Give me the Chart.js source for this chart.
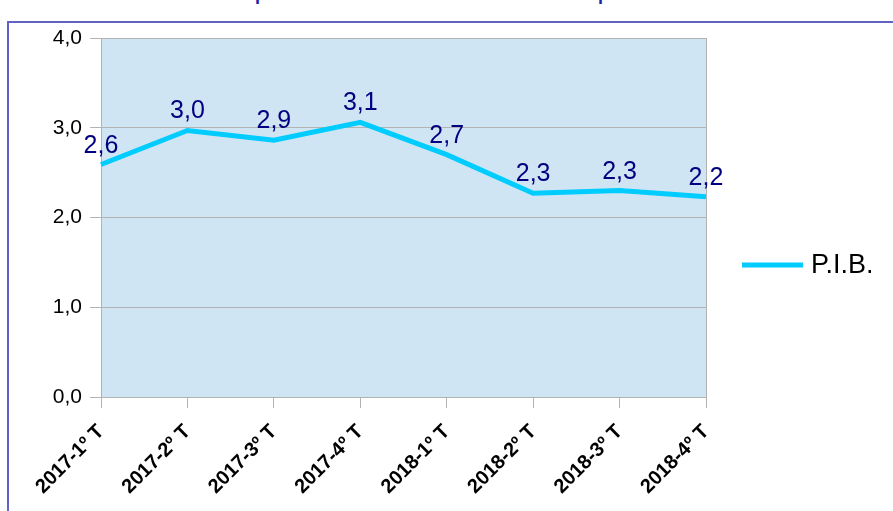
<!DOCTYPE html>
<html>
<head>
<meta charset="utf-8">
<script src="https://cdn.jsdelivr.net/npm/chart.js@4.4.1/dist/chart.umd.min.js"></script>
<style>
  html, body { margin:0; padding:0; background:#ffffff; overflow:hidden; }
  body { width:893px; height:511px; position:relative; }
  #title {
    position:absolute; left:0; width:934px; top:-16px;
    text-align:center; white-space:nowrap;
    font:bold 18px "Liberation Sans", Arial, sans-serif; color:#1f1fa8;
  }
  #frame {
    position:absolute; left:7px; top:21px; width:1000px; height:600px;
    border:2px solid #6262c6; box-sizing:border-box;
  }
  #wrap { position:absolute; left:0; top:0; width:893px; height:511px; }
</style>
</head>
<body>
<div id="title">Comparación de la tasa de variación del PIB por trimestres</div>
<div id="frame"></div>
<div id="wrap"><canvas id="pibChart"></canvas></div>
<script>
/* =========================
DATA
========================= */

const categories = [
  "2017-1º T","2017-2º T","2017-3º T","2017-4º T",
  "2018-1º T","2018-2º T","2018-3º T","2018-4º T"
];

const seriesName = "P.I.B.";

const pibValues = [2.59, 2.97, 2.86, 3.06, 2.70, 2.27, 2.30, 2.23];

const yMin = 0;
const yMax = 4;
const yStep = 1;

/* =========================
HELPERS
========================= */

function comma(v){
  return Number(v).toFixed(1).replace(".", ",");
}

const lineColor = "#00ccff";
const gridColor = "#b3b3b3";

/* plot wall background */
const wallPlugin = {
  id:"wall",
  beforeDraw(chart){
    const a = chart.chartArea;
    const c = chart.ctx;
    c.save();
    c.fillStyle = "#cfe5f3";
    c.fillRect(a.left, a.top, a.right - a.left, a.bottom - a.top);
    c.strokeStyle = gridColor;
    c.lineWidth = 1;
    c.beginPath();
    c.moveTo(Math.round(a.right) + 0.5, a.top);
    c.lineTo(Math.round(a.right) + 0.5, a.bottom);
    c.stroke();
    c.restore();
  }
};

/* value labels + legend */
const labelPlugin = {
  id:"valueLabels",
  afterDatasetsDraw(chart){
    const c = chart.ctx;
    const meta = chart.getDatasetMeta(0);
    c.save();
    c.fillStyle = "#000080";
    c.font = "25px 'Liberation Sans', Arial, sans-serif";
    c.textAlign = "center";
    c.textBaseline = "alphabetic";
    meta.data.forEach((pt, i) => {
      c.fillText(comma(chart.data.datasets[0].data[i]), pt.x, pt.y - 12);
    });

    // legend
    c.strokeStyle = lineColor;
    c.lineWidth = 5;
    c.beginPath();
    c.moveTo(742, 265);
    c.lineTo(803, 265);
    c.stroke();
    c.fillStyle = "#000000";
    c.font = "27px 'Liberation Sans', Arial, sans-serif";
    c.textAlign = "left";
    c.textBaseline = "middle";
    c.fillText(chart.data.datasets[0].label, 811, 266);
    c.restore();
  }
};

/* =========================
CHART
========================= */

const ctx = document.getElementById("pibChart");

new Chart(ctx, {
  type:"line",
  data:{
    labels:categories,
    datasets:[{
      label:seriesName,
      data:pibValues,
      borderColor:lineColor,
      backgroundColor:lineColor,
      borderWidth:5,
      pointRadius:0,
      pointHoverRadius:0,
      tension:0,
      fill:false
    }]
  },
  options:{
    responsive:true,
    maintainAspectRatio:false,
    animation:false,
    events:[],
    layout:{ padding:{ left:0, top:38, right:187, bottom:0 } },
    plugins:{
      legend:{ display:false },
      tooltip:{ enabled:false },
      title:{ display:false }
    },
    scales:{
      x:{
        offset:false,
        grid:{
          drawOnChartArea:false,
          drawTicks:true,
          tickLength:11,
          color:gridColor
        },
        border:{ color:gridColor },
        ticks:{
          minRotation:45,
          maxRotation:45,
          autoSkip:false,
          padding:12,
          color:"#000000",
          font:{ family:"'Liberation Sans', Arial, sans-serif", size:20, weight:"bold" }
        },
        afterFit(scale){ scale.height = 114; }
      },
      y:{
        min:yMin,
        max:yMax,
        grid:{
          color:gridColor,
          tickLength:11,
          drawTicks:true
        },
        border:{ color:gridColor },
        ticks:{
          stepSize:yStep,
          padding:8,
          color:"#000000",
          font:{ family:"'Liberation Sans', Arial, sans-serif", size:21 },
          callback:(v) => comma(v)
        },
        afterFit(scale){ scale.width = 101; }
      }
    }
  },
  plugins:[wallPlugin, labelPlugin]
});
</script>
</body>
</html>
